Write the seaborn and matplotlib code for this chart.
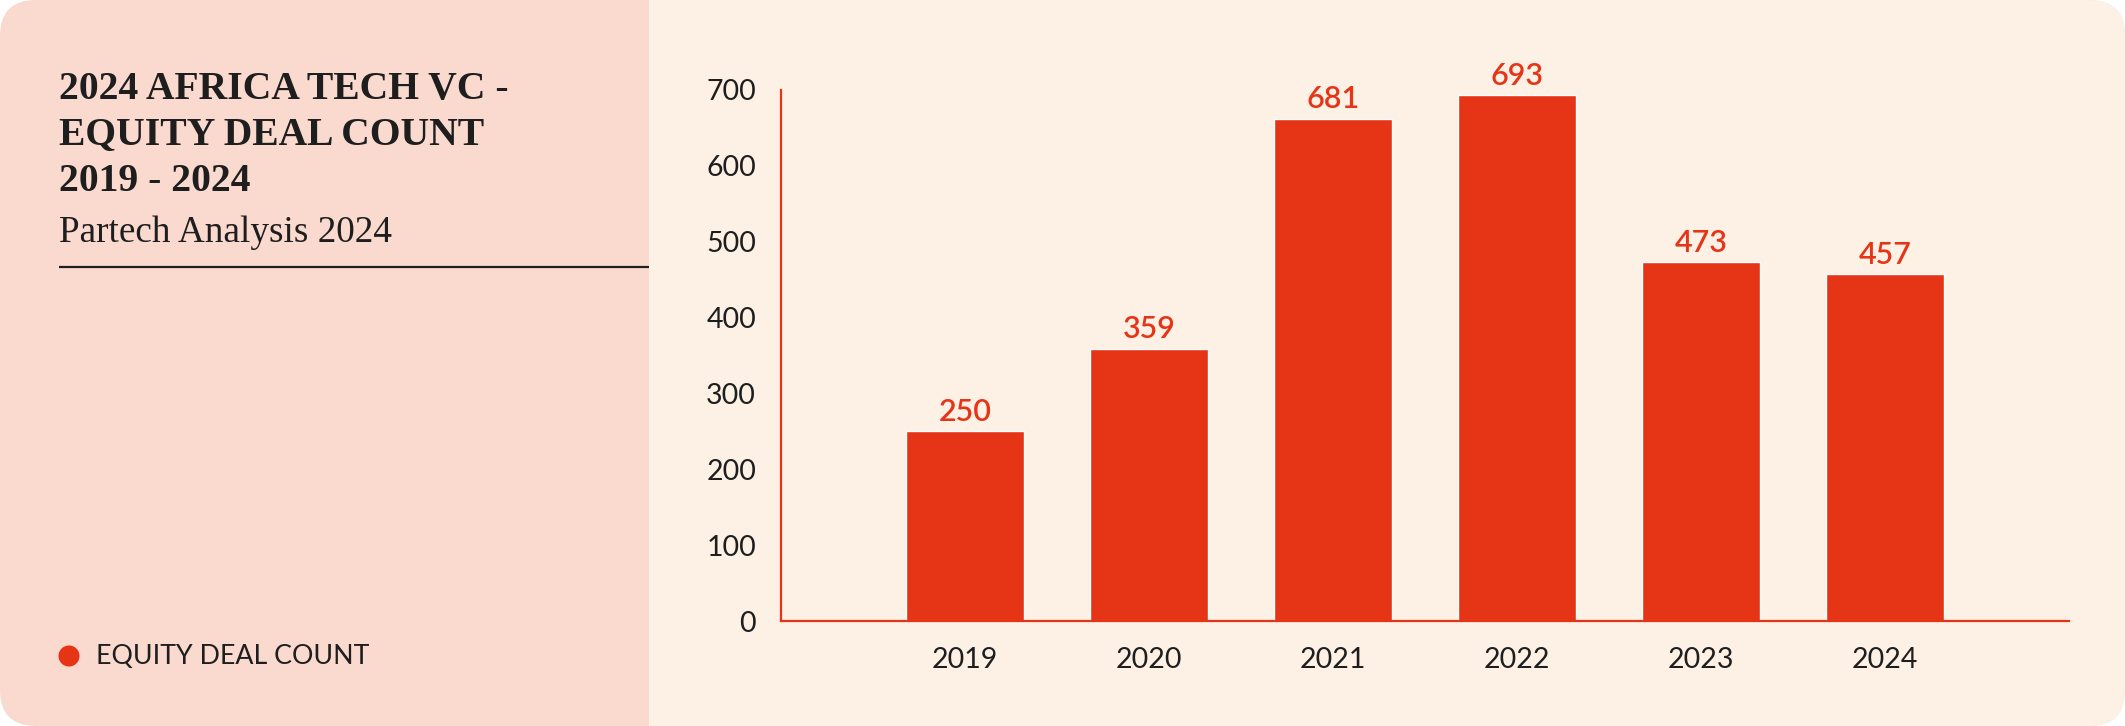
import matplotlib
matplotlib.use("Agg")
import matplotlib.pyplot as plt
import matplotlib.patches as mpatches
import pandas as pd
import seaborn as sns

# ─── Data ─────────────────────────────────────────────────────────────────────
years = ["2019", "2020", "2021", "2022", "2023", "2024"]
deal_counts = [250, 359, 681, 693, 473, 457]          # printed labels
bar_heights = [250, 359, 662, 693, 473, 457]          # as drawn in the source (2021 bar is short)
y_ticks = [0, 100, 200, 300, 400, 500, 600, 700]

title_lines = ["2024 AFRICA TECH VC -", "EQUITY DEAL COUNT", "2019 - 2024"]
subtitle = "Partech Analysis 2024"
legend_label = "EQUITY DEAL COUNT"

# ─── Colours ──────────────────────────────────────────────────────────────────
RED = "#E63417"
LEFT_BG = "#FAD9CF"
RIGHT_BG = "#FDF0E5"
INK = "#1E1E1E"

W, H = 2125, 726
SPLIT = 649
RADIUS = 36
SERIF = ["Liberation Serif", "DejaVu Serif"]

sns.set_theme(style="white")
plt.rcParams["font.family"] = ["Lato", "DejaVu Sans"]

fig = plt.figure(figsize=(W / 100, H / 100), dpi=100)
fig.patch.set_facecolor("white")

# background canvas in pixel coordinates
bg = fig.add_axes([0, 0, 1, 1], zorder=0)
bg.set_xlim(0, W)
bg.set_ylim(H, 0)
bg.axis("off")

bg.add_patch(mpatches.FancyBboxPatch((0, 0), W, H,
                                     boxstyle=f"round,pad=0,rounding_size={RADIUS}",
                                     facecolor=LEFT_BG, edgecolor="none"))
bg.add_patch(mpatches.FancyBboxPatch((SPLIT, 0), W - SPLIT, H,
                                     boxstyle=f"round,pad=0,rounding_size={RADIUS}",
                                     facecolor=RIGHT_BG, edgecolor="none"))
bg.add_patch(mpatches.Rectangle((SPLIT, 0), 2 * RADIUS, H,
                                facecolor=RIGHT_BG, edgecolor="none"))

# title block
for line, base in zip(title_lines, [99, 144, 191]):
    bg.text(59, base, line, fontsize=28.5, fontweight="bold", color=INK,
            family=SERIF, va="baseline", ha="left")
bg.text(59, 242, subtitle, fontsize=26.8, color=INK,
        family=SERIF, va="baseline", ha="left")
bg.plot([59, SPLIT], [267, 267], color=INK, lw=1.6, solid_capstyle="butt")

# legend
bg.scatter([69], [656], s=230, color=RED, edgecolors="none")
bg.text(96, 656, legend_label, fontsize=19.3, color=INK, va="center", ha="left")

# ─── Bar chart ────────────────────────────────────────────────────────────────
df = pd.DataFrame({"Year": years, "Deals": bar_heights})

ax = fig.add_axes([781 / W, 105 / H, (2069 - 781) / W, (621 - 90) / H], zorder=1)
ax.set_facecolor("none")
sns.barplot(data=df, x="Year", y="Deals", color=RED, saturation=1,
            width=0.64, ax=ax)

for c in ax.containers:
    ax.bar_label(c, labels=[str(v) for v in deal_counts], padding=4,
                 fontsize=22, color=RED, fontweight="semibold")

ax.set_xlim(-1, 6)
ax.set_ylim(0, 700)
ax.set_yticks(y_ticks)
ax.set_xlabel("")
ax.set_ylabel("")
ax.tick_params(axis="both", length=0, labelsize=20.5, labelcolor=INK)
ax.tick_params(axis="x", pad=19)
ax.tick_params(axis="y", pad=18)

for side in ["top", "right"]:
    ax.spines[side].set_visible(False)
for side in ["left", "bottom"]:
    ax.spines[side].set_color(RED)
    ax.spines[side].set_linewidth(1.6)

fig.savefig("out.png", dpi=100, facecolor=fig.get_facecolor())
